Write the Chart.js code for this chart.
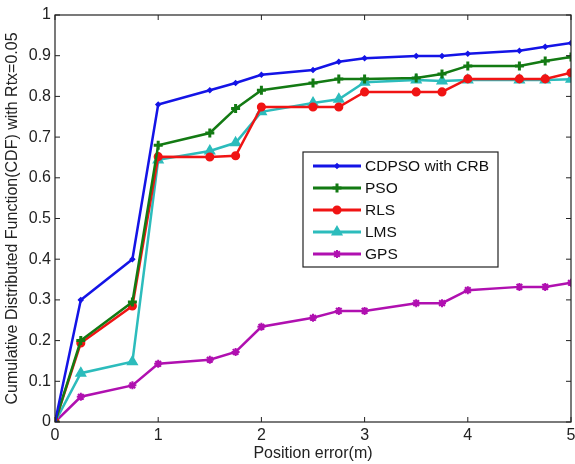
<!DOCTYPE html>
<html>
<head>
<meta charset="utf-8">
<script src="https://cdn.jsdelivr.net/npm/chart.js@4.4.1/dist/chart.umd.min.js"></script>
<style>
  html, body { margin: 0; padding: 0; background: #fff; }
  #wrap { width: 575px; height: 464px; }
</style>
</head>
<body>
<div id="wrap"><canvas id="cdf"></canvas></div>
<script>
// position error (m)
const positions = [0, 0.25, 0.75, 1, 1.5, 1.75, 2, 2.5, 2.75, 3, 3.5, 3.75, 4, 4.5, 4.75, 5];

const cdpsoValues = [0, 0.30, 0.40, 0.78, 0.815, 0.833, 0.853, 0.865, 0.885, 0.894, 0.899, 0.899, 0.905, 0.912, 0.922, 0.931];
const psoValues   = [0, 0.20, 0.295, 0.68, 0.71, 0.77, 0.815, 0.833, 0.843, 0.843, 0.845, 0.855, 0.875, 0.875, 0.887, 0.897];
const rlsValues   = [0, 0.194, 0.285, 0.652, 0.651, 0.654, 0.774, 0.774, 0.774, 0.811, 0.811, 0.811, 0.843, 0.843, 0.843, 0.858];
const lmsValues   = [0, 0.12, 0.148, 0.644, 0.666, 0.686, 0.762, 0.784, 0.793, 0.835, 0.840, 0.838, 0.840, 0.840, 0.840, 0.842];
const gpsValues   = [0, 0.062, 0.09, 0.143, 0.153, 0.172, 0.234, 0.256, 0.273, 0.273, 0.292, 0.292, 0.324, 0.332, 0.332, 0.342];

const seriesNames = ['CDPSO with CRB', 'PSO', 'RLS', 'LMS', 'GPS'];
const xTicks = [0, 1, 2, 3, 4, 5];
const yTicks = [0, 0.1, 0.2, 0.3, 0.4, 0.5, 0.6, 0.7, 0.8, 0.9, 1];

const FONT = '"Liberation Sans", Arial, sans-serif';

function toPoints(vals) {
  return vals.map((v, i) => ({ x: positions[i], y: v }));
}

function makeSet(name, vals, color, style, radius, bw) {
  return {
    label: name,
    data: toPoints(vals),
    borderColor: color,
    backgroundColor: color,
    borderWidth: 2.5,
    pointStyle: style,
    pointRadius: radius,
    pointBorderWidth: bw,
    pointBorderColor: color,
    pointBackgroundColor: color,
    tension: 0,
    fill: false
  };
}

const datasets = [
  makeSet(seriesNames[0], cdpsoValues, '#1414e6', 'rectRot', 2.2, 1.5),
  makeSet(seriesNames[1], psoValues, '#137a13', 'cross', 4.5, 3),
  makeSet(seriesNames[2], rlsValues, '#f01414', 'circle', 3.8, 1.5),
  makeSet(seriesNames[3], lmsValues, '#2cbcbc', 'triangle', 5.5, 1.5),
  makeSet(seriesNames[4], gpsValues, '#b010b0', 'star', 4, 2)
];

// matlab style frame, inward ticks and legend box
const framePlugin = {
  id: 'frame',
  afterDraw(chart) {
    const ctx = chart.ctx;
    const a = chart.chartArea;
    const xs = chart.scales.x, ys = chart.scales.y;
    ctx.save();
    ctx.strokeStyle = '#222';
    ctx.lineWidth = 1.2;
    ctx.strokeRect(a.left, a.top, a.right - a.left, a.bottom - a.top);
    ctx.lineWidth = 1;
    xTicks.forEach(t => {
      const px = xs.getPixelForValue(t);
      ctx.beginPath();
      ctx.moveTo(px, a.bottom); ctx.lineTo(px, a.bottom - 5);
      ctx.moveTo(px, a.top); ctx.lineTo(px, a.top + 5);
      ctx.stroke();
    });
    yTicks.forEach(t => {
      const py = ys.getPixelForValue(t);
      ctx.beginPath();
      ctx.moveTo(a.left, py); ctx.lineTo(a.left + 5, py);
      ctx.moveTo(a.right, py); ctx.lineTo(a.right - 5, py);
      ctx.stroke();
    });

    // legend
    const lx = 303, ly = 152, lw = 195, lh = 115;
    ctx.fillStyle = '#fff';
    ctx.fillRect(lx, ly, lw, lh);
    ctx.strokeStyle = '#222';
    ctx.lineWidth = 1.2;
    ctx.strokeRect(lx, ly, lw, lh);
    ctx.font = '15.5px ' + FONT;
    ctx.textBaseline = 'middle';
    chart.data.datasets.forEach((ds, i) => {
      const yy = ly + 14 + i * 22;
      ctx.strokeStyle = ds.borderColor;
      ctx.lineWidth = 3;
      ctx.beginPath();
      ctx.moveTo(lx + 10, yy); ctx.lineTo(lx + 58, yy);
      ctx.stroke();
      ctx.fillStyle = ds.borderColor;
      ctx.lineWidth = ds.pointBorderWidth;
      Chart.helpers.drawPoint(ctx, {
        pointStyle: ds.pointStyle,
        radius: ds.pointRadius,
        borderWidth: ds.pointBorderWidth,
        rotation: 0
      }, lx + 34, yy);
      ctx.fillStyle = '#111';
      ctx.fillText(ds.label, lx + 62, yy + 1);
    });
    ctx.restore();
  }
};

new Chart(document.getElementById('cdf'), {
  type: 'line',
  data: { datasets: datasets },
  plugins: [framePlugin],
  options: {
    responsive: true,
    maintainAspectRatio: false,
    animation: false,
    layout: { autoPadding: false, padding: { top: 15, right: 4, left: 0, bottom: 0 } },
    plugins: {
      legend: { display: false },
      tooltip: { enabled: false }
    },
    scales: {
      x: {
        type: 'linear',
        min: 0, max: 5,
        grid: { display: false, drawTicks: false },
        border: { display: false },
        afterBuildTicks(scale) { scale.ticks = xTicks.map(v => ({ value: v })); },
        afterFit(scale) { scale.height = 42; scale.paddingRight = 0; scale.paddingLeft = 0; },
        ticks: {
          color: '#222',
          padding: 4,
          font: { family: FONT, size: 16 },
          callback: v => String(v)
        },
        title: {
          display: true,
          text: 'Position error(m)',
          color: '#222',
          padding: { top: 0, bottom: 1 },
          font: { family: FONT, size: 16 }
        }
      },
      y: {
        min: 0, max: 1,
        grid: { display: false, drawTicks: false },
        border: { display: false },
        afterBuildTicks(scale) { scale.ticks = yTicks.map(v => ({ value: v })); },
        afterFit(scale) { scale.width = 55; scale.paddingTop = 0; scale.paddingBottom = 0; },
        ticks: {
          color: '#222',
          padding: 4,
          font: { family: FONT, size: 16 },
          callback: v => String(Math.round(v * 10) / 10)
        },
        title: {
          display: true,
          text: 'Cumulative Distributed Function(CDF) with Rtx=0.05',
          color: '#222',
          padding: { top: 3, bottom: 0 },
          font: { family: FONT, size: 16 }
        }
      }
    }
  }
});
</script>
</body>
</html>
